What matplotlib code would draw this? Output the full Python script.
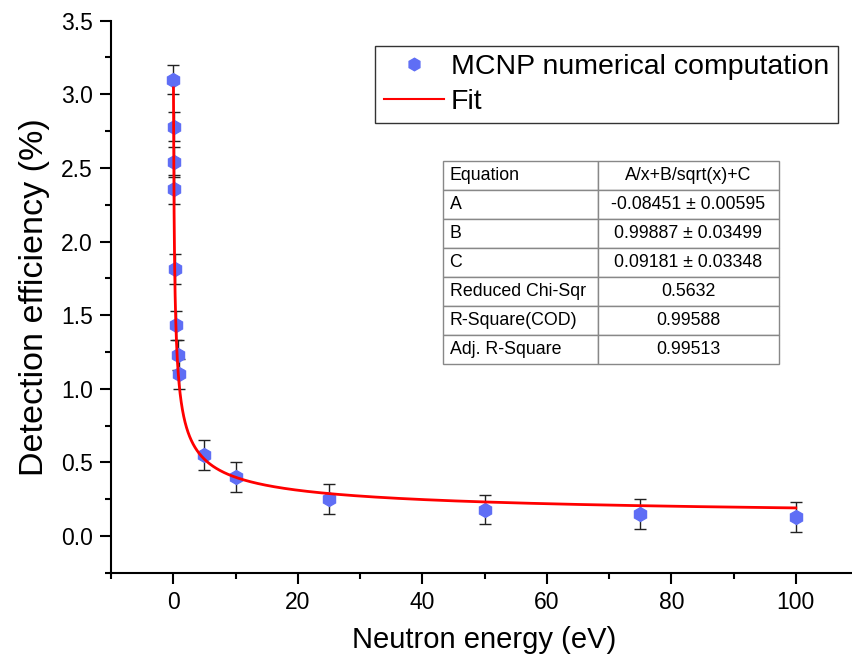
import numpy as np
import matplotlib
matplotlib.use("Agg")
import matplotlib.pyplot as plt
from matplotlib.ticker import MultipleLocator
from matplotlib.lines import Line2D

plt.rcParams['font.family'] = ['Liberation Sans', 'DejaVu Sans']

# MCNP data
energia = [0.0253, 0.05, 0.075, 0.1, 0.25, 0.5, 0.75, 1.0, 5, 10, 25, 50, 75, 100]
eficiencia = [3.10, 2.78, 2.54, 2.355, 1.815, 1.43, 1.23, 1.10, 0.55, 0.40, 0.25, 0.18, 0.15, 0.13]
error = [0.1] * 14

# fit parameters A/x + B/sqrt(x) + C
A, B, C = -0.08451, 0.99887, 0.09181
tabla = [["Equation", "A/x+B/sqrt(x)+C"],
         ["A", "-0.08451 ± 0.00595"],
         ["B", "0.99887 ± 0.03499"],
         ["C", "0.09181 ± 0.03348"],
         ["Reduced Chi-Sqr", "0.5632"],
         ["R-Square(COD)", "0.99588"],
         ["Adj. R-Square", "0.99513"]]

azul = '#5F6EF5'

fig = plt.figure(figsize=(8.52, 6.61), dpi=100)
ax = fig.add_axes([0.1303, 0.1334, 0.8768, 0.8353])

ax.errorbar(energia, eficiencia, yerr=error, fmt='h', color=azul, markersize=10,
            ecolor='#222222', elinewidth=1, capsize=4.5, capthick=1, zorder=3)

# curva del ajuste desde el maximo hasta 100
raiz = np.linspace(-2 * A / B, 10, 3000)
xfit = raiz ** 2
yfit = A / xfit + B / np.sqrt(xfit) + C
ax.plot(xfit, yfit, color='red', lw=2, zorder=4)

ax.set_xlim(-10, 110)
ax.set_ylim(-0.25, 3.5)
ax.set_xticks([0, 20, 40, 60, 80, 100])
ax.xaxis.set_minor_locator(MultipleLocator(10))
ax.yaxis.set_major_locator(MultipleLocator(0.5))
ax.yaxis.set_minor_locator(MultipleLocator(0.25))
ax.yaxis.set_major_formatter(matplotlib.ticker.FormatStrFormatter('%.1f'))
ax.spines['top'].set_visible(False)
ax.spines['right'].set_visible(False)
for s in ['left', 'bottom']:
    ax.spines[s].set_linewidth(1.5)
ax.tick_params(which='major', length=8, width=1.5, labelsize=16.5, direction='out', pad=5)
ax.tick_params(which='minor', length=4, width=1.5, direction='out')

ax.set_xlabel("Neutron energy (eV)", fontsize=21, labelpad=9)
ax.set_ylabel("Detection efficiency (%)", fontsize=24.5, labelpad=8)

h1 = Line2D([], [], ls='none', marker='h', color=azul, markersize=9)
h2 = Line2D([], [], color='red', lw=1.5)
leg = ax.legend([h1, h2], ['MCNP numerical computation', 'Fit'], loc='upper left',
                bbox_to_anchor=(0.354, 0.955), fontsize=20.5, frameon=True,
                fancybox=False, edgecolor='#333333', framealpha=1, handlelength=2.1,
                handletextpad=0.25, borderpad=0.3, labelspacing=0.3, borderaxespad=0)
leg.get_frame().set_linewidth(1)

t = ax.table(cellText=tabla, colWidths=[0.46, 0.54], bbox=[0.445, 0.379, 0.449, 0.366],
             cellLoc='center')
t.auto_set_font_size(False)
for (r, c), cell in t.get_celld().items():
    cell.set_edgecolor('#888888')
    cell.set_linewidth(1)
    cell.set_fontsize(12.8)
    if c == 0:
        cell.get_text().set_ha('left')
        cell.PAD = 0.04

fig.savefig("out.png", dpi=100)
